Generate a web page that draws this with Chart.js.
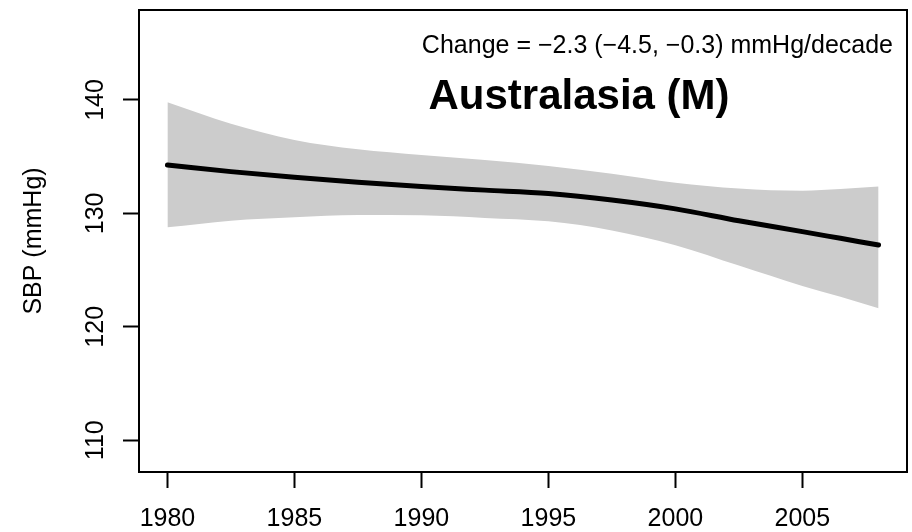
<!DOCTYPE html>
<html>
<head>
<meta charset="utf-8">
<script src="https://cdn.jsdelivr.net/npm/chart.js@4"></script>
<style>
  body { margin: 0; background: #ffffff; }
</style>
</head>
<body>
<canvas id="myChart" width="912" height="532"></canvas>
<script>
// values
var years = [1980, 1982.5, 1985, 1987.5, 1990, 1992.5, 1995, 1997.5, 2000, 2002.5, 2005, 2006.5, 2008];
var sbpFit = [134.27, 133.68, 133.18, 132.74, 132.36, 132.05, 131.75, 131.18, 130.4, 129.35, 128.39, 127.8, 127.21];
var sbpUpper = [139.8, 137.9, 136.47, 135.65, 135.15, 134.7, 134.18, 133.5, 132.71, 132.2, 132.0, 132.15, 132.36];
var sbpLower = [128.77, 129.36, 129.66, 129.86, 129.83, 129.6, 129.3, 128.5, 127.2, 125.4, 123.6, 122.65, 121.63];

var xTicks = [1980, 1985, 1990, 1995, 2000, 2005];
var yTicks = [110, 120, 130, 140];

var titleText = "Australasia (M)";
var changeText = "Change = \u22122.3 (\u22124.5, \u22120.3) mmHg/decade";
var yTitle = "SBP (mmHg)";

var fontFamily = "'Liberation Sans', Arial, Helvetica, sans-serif";
Chart.defaults.font.family = fontFamily;
Chart.defaults.color = "#000000";

function toPoints(vals) {
    var pts = [];
    for (let i = 0; i < years.length; i++) {
        pts.push({ x: years[i], y: vals[i] });
    }
    return pts;
}

// box around the plot, rotated y tick labels and the two texts inside
var boxPlugin = {
    id: "boxPlugin",
    afterDraw: function (chart) {
        var ctx = chart.ctx;
        var a = chart.chartArea;
        var yScale = chart.scales.y;
        ctx.save();
        ctx.strokeStyle = "#000000";
        ctx.lineWidth = 2;
        ctx.strokeRect(a.left, a.top, a.right - a.left, a.bottom - a.top);

        ctx.fillStyle = "#000000";
        ctx.font = "25px " + fontFamily;
        ctx.textAlign = "center";
        ctx.textBaseline = "alphabetic";
        yTicks.forEach(function (v) {
            var py = yScale.getPixelForValue(v);
            ctx.save();
            ctx.translate(103, py);
            ctx.rotate(-Math.PI / 2);
            ctx.fillText(String(v), 0, 0);
            ctx.restore();
        });

        ctx.save();
        ctx.translate(41, (a.top + a.bottom) / 2);
        ctx.rotate(-Math.PI / 2);
        ctx.fillText(yTitle, 0, 0);
        ctx.restore();

        ctx.textAlign = "right";
        ctx.fillText(changeText, 893, 53);

        ctx.font = "bold 42px " + fontFamily;
        ctx.textAlign = "center";
        ctx.fillText(titleText, 579, 109);
        ctx.restore();
    },
};

// fit line first so it is drawn on top of the grey band
var data = {
    datasets: [
        {
            label: "fit",
            data: toPoints(sbpFit),
            borderColor: "#000000",
            borderWidth: 5,
            borderCapStyle: "round",
            pointRadius: 0,
            fill: false,
            cubicInterpolationMode: "monotone",
        },
        {
            label: "upper",
            data: toPoints(sbpUpper),
            borderWidth: 0,
            borderColor: "rgba(0,0,0,0)",
            backgroundColor: "#cccccc",
            pointRadius: 0,
            fill: "+1",
            cubicInterpolationMode: "monotone",
        },
        {
            label: "lower",
            data: toPoints(sbpLower),
            borderWidth: 0,
            borderColor: "rgba(0,0,0,0)",
            pointRadius: 0,
            fill: false,
            cubicInterpolationMode: "monotone",
        },
    ],
};

var config = {
    type: "line",
    data: data,
    options: {
        responsive: false,
        animation: false,
        layout: { padding: { left: 0, right: 5, top: 10, bottom: 0 } },
        plugins: {
            legend: { display: false },
            tooltip: { enabled: false },
        },
        scales: {
            x: {
                type: "linear",
                min: 1978.88,
                max: 2009.12,
                afterBuildTicks: function (scale) {
                    scale.ticks = xTicks.map(function (v) { return { value: v }; });
                },
                afterFit: function (scale) { scale.height = 60; },
                grid: {
                    drawOnChartArea: false,
                    tickLength: 16,
                    tickWidth: 2,
                    tickColor: "#000000",
                },
                border: { display: true, color: "#000000", width: 2 },
                ticks: {
                    padding: 16,
                    maxRotation: 0,
                    autoSkip: false,
                    font: { size: 25 },
                    color: "#000000",
                    callback: function (v) { return String(v); },
                },
            },
            y: {
                type: "linear",
                min: 107.2,
                max: 147.93,
                afterBuildTicks: function (scale) {
                    scale.ticks = yTicks.map(function (v) { return { value: v }; });
                },
                afterFit: function (scale) { scale.width = 139; },
                grid: {
                    drawOnChartArea: false,
                    tickLength: 16,
                    tickWidth: 2,
                    tickColor: "#000000",
                },
                border: { display: true, color: "#000000", width: 2 },
                ticks: { display: false },
            },
        },
    },
    plugins: [boxPlugin],
};

var ctx = document.getElementById("myChart").getContext("2d");
var myChart = new Chart(ctx, config);
</script>
</body>
</html>
